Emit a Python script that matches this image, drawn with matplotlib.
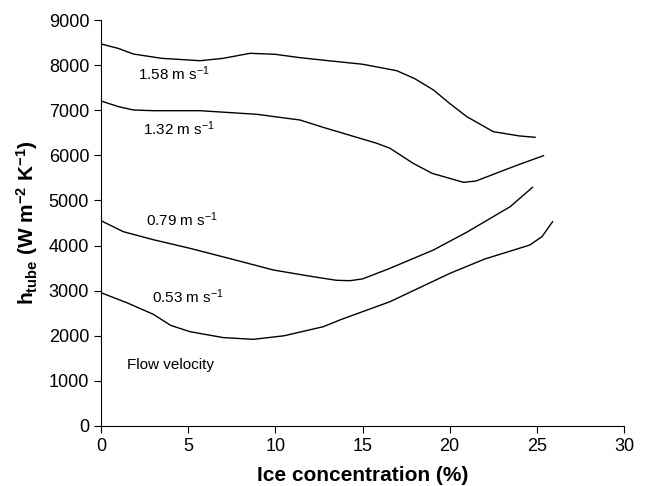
import numpy as np
import matplotlib
matplotlib.use('Agg')
import matplotlib.pyplot as plt

plt.rcParams['font.family'] = ['Liberation Sans', 'DejaVu Sans']
plt.rcParams['mathtext.fontset'] = 'custom'
plt.rcParams['mathtext.rm'] = 'Liberation Sans'
plt.rcParams['mathtext.bf'] = 'Liberation Sans:bold'
plt.rcParams['mathtext.it'] = 'Liberation Sans:italic'
plt.rcParams['mathtext.default'] = 'regular'

# values (ice concentration %, h_tube W m-2 K-1)
x_158 = [0, 1.0, 1.86, 3.5, 5.68, 7.0, 8.55, 10, 11.42, 13, 15, 16.96, 18, 19.07, 20, 20.98, 22.5, 24, 24.9]
h_158 = [8470, 8370, 8246, 8150, 8098, 8150, 8262, 8240, 8165, 8100, 8020, 7877, 7700, 7449, 7150, 6858, 6525, 6430, 6400]

x_132 = [0, 1.0, 1.86, 3, 5.68, 8.93, 11.42, 12.75, 15.82, 16.58, 17.9, 19, 20.79, 21.5, 22.9, 24, 25.38]
h_132 = [7205, 7080, 7005, 6990, 6990, 6910, 6783, 6620, 6267, 6156, 5824, 5600, 5402, 5430, 5638, 5800, 5992]

x_079 = [0, 1.28, 3, 5.1, 7.5, 9.89, 12, 13.5, 14.29, 15, 16.58, 19.07, 21, 23.47, 24.75]
h_079 = [4551, 4308, 4130, 3939, 3700, 3458, 3320, 3230, 3221, 3260, 3496, 3902, 4300, 4862, 5291]

x_053 = [0, 1.5, 3, 4, 5.1, 7, 8.74, 10.5, 12.75, 13.8, 16.58, 20.02, 22, 24.6, 25.3, 25.9]
h_053 = [2955, 2730, 2476, 2230, 2091, 1960, 1921, 2000, 2201, 2365, 2756, 3385, 3700, 4012, 4200, 4529]

series = [(x_158, h_158), (x_132, h_132), (x_079, h_079), (x_053, h_053)]
labels = ['1.58 m s$^{-1}$', '1.32 m s$^{-1}$', '0.79 m s$^{-1}$', '0.53 m s$^{-1}$']
label_pos = [(2.1, 7810), (2.4, 6600), (2.6, 4570), (2.9, 2860)]

fig = plt.figure(figsize=(6.46, 4.86), dpi=100)
ax = fig.add_axes([0.1563, 0.1235, 0.8097, 0.8353])

for (xs, hs) in series:
    ax.plot(xs, hs, color='black', lw=1.0)

for lab, (lx, ly) in zip(labels, label_pos):
    ax.text(lx, ly, lab, fontsize=11, va='center', ha='left')
ax.text(1.5, 1350, 'Flow velocity', fontsize=11, va='center', ha='left')

ax.set_xlim(0, 30)
ax.set_ylim(0, 9000)
ax.set_xticks(np.arange(0, 31, 5))
ax.set_yticks(np.arange(0, 9001, 1000))
ax.spines['top'].set_visible(False)
ax.spines['right'].set_visible(False)
ax.tick_params(direction='out', length=5, labelsize=13)
ax.set_xlabel('Ice concentration (%)', fontsize=15, fontweight='bold', labelpad=8)
ax.set_ylabel(r'$\mathbf{h_{tube}}$ $\mathbf{(W\ m^{-2}\ K^{-1})}$', fontsize=15, labelpad=6)

fig.savefig('out.png', dpi=100)
